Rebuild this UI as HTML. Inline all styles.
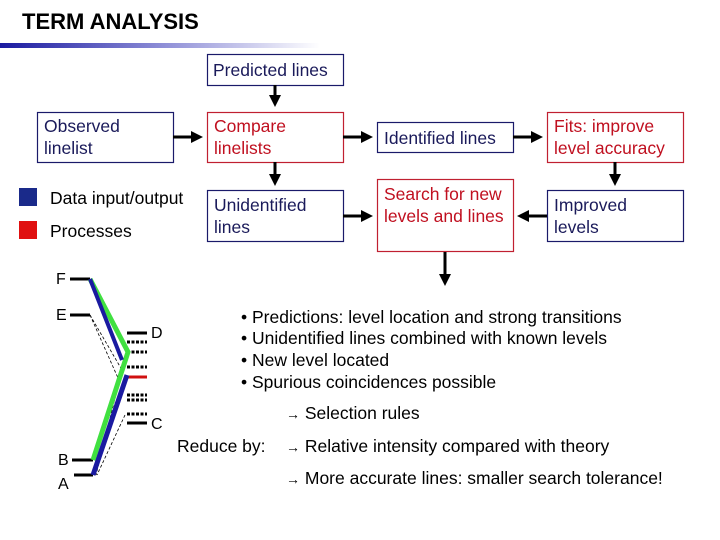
<!DOCTYPE html>
<html><head><meta charset="utf-8"><style>
html,body{margin:0;padding:0;background:#fff;}
svg{display:block;font-family:"Liberation Sans",Arial,sans-serif;}
</style></head><body>
<svg width="720" height="540" viewBox="0 0 720 540" xmlns="http://www.w3.org/2000/svg">
<defs>
<linearGradient id="g" x1="0" x2="1" y1="0" y2="0">
<stop offset="0" stop-color="#1a1aa0"/><stop offset="0.5" stop-color="#8c8cd6"/><stop offset="1" stop-color="#ffffff"/>
</linearGradient>
<marker id="ah" markerWidth="4" markerHeight="4" refX="3" refY="2" orient="auto" markerUnits="strokeWidth">
<path d="M0,0 L4,2 L0,4 z" fill="#000"/></marker>
</defs>
<text x="22" y="29" font-size="22" font-weight="bold" fill="#000">TERM ANALYSIS</text>
<rect x="0" y="43" width="320" height="5" fill="url(#g)"/>

<g stroke-width="1.2" fill="#fff">
<rect x="207.5" y="54.5" width="136" height="31" stroke="#1a1a6a"/>
<rect x="37.5" y="112.5" width="136" height="50" stroke="#1a1a6a"/>
<rect x="207.5" y="112.5" width="136" height="50" stroke="#c02030"/>
<rect x="377.5" y="122.5" width="136" height="30" stroke="#1a1a6a"/>
<rect x="547.5" y="112.5" width="136" height="50" stroke="#c02030"/>
<rect x="207.5" y="190.5" width="136" height="51" stroke="#1a1a6a"/>
<rect x="377.5" y="179.5" width="136" height="72" stroke="#c02030"/>
<rect x="547.5" y="190.5" width="136" height="51" stroke="#1a1a6a"/>
</g>
<g font-size="17.5">
<text x="213" y="76" fill="#1a1a5a">Predicted lines</text>
<text x="44" y="132" fill="#1a1a5a">Observed</text><text x="44" y="154" fill="#1a1a5a">linelist</text>
<text x="214" y="132" fill="#c01020">Compare</text><text x="214" y="154" fill="#c01020">linelists</text>
<text x="384" y="144" fill="#1a1a5a">Identified lines</text>
<text x="554" y="132" fill="#c01020">Fits: improve</text><text x="554" y="154" fill="#c01020">level accuracy</text>
<text x="214" y="211" fill="#1a1a5a">Unidentified</text><text x="214" y="233" fill="#1a1a5a">lines</text>
<text x="384" y="200" fill="#c01020">Search for new</text><text x="384" y="222" fill="#c01020">levels and lines</text>
<text x="554" y="211" fill="#1a1a5a">Improved</text><text x="554" y="233" fill="#1a1a5a">levels</text>
<text x="50" y="204" fill="#000">Data input/output</text>
<text x="50" y="237" fill="#000">Processes</text>
</g>
<rect x="19" y="188" width="18" height="18" fill="#1a2a8a"/>
<rect x="19" y="221" width="18" height="18" fill="#e01010"/>

<g stroke="#000" stroke-width="3" marker-end="url(#ah)">
<line x1="275" y1="85" x2="275" y2="104"/>
<line x1="173" y1="137" x2="200" y2="137"/>
<line x1="343" y1="137" x2="370" y2="137"/>
<line x1="513" y1="137" x2="540" y2="137"/>
<line x1="615" y1="162" x2="615" y2="183"/>
<line x1="275" y1="162" x2="275" y2="183"/>
<line x1="343" y1="216" x2="370" y2="216"/>
<line x1="547" y1="216" x2="520" y2="216"/>
<line x1="445" y1="252" x2="445" y2="283"/>
</g>

<g font-size="16" fill="#000">
<text x="56" y="284">F</text><text x="56" y="320">E</text>
<text x="151" y="338">D</text><text x="151" y="429">C</text>
<text x="58" y="465">B</text><text x="58" y="489">A</text>
</g>
<g stroke="#000" stroke-width="3">
<line x1="70" y1="279" x2="90" y2="279"/>
<line x1="70" y1="315" x2="90" y2="315"/>
<line x1="127" y1="333" x2="147" y2="333"/>
<line x1="127" y1="423" x2="147" y2="423"/>
<line x1="72" y1="460" x2="93" y2="460"/>
<line x1="74" y1="475" x2="93" y2="475"/>
</g>
<g stroke="#000" stroke-width="3" stroke-dasharray="3,1.5">
<line x1="127" y1="342" x2="147" y2="342"/>
<line x1="127" y1="352" x2="147" y2="352"/>
<line x1="127" y1="367" x2="147" y2="367"/>
<line x1="127" y1="395" x2="147" y2="395"/>
<line x1="127" y1="400" x2="147" y2="400"/>
<line x1="127" y1="414" x2="147" y2="414"/>
</g>
<line x1="127" y1="377" x2="147" y2="377" stroke="#d01010" stroke-width="3"/>
<g stroke="#000" stroke-width="0.8" stroke-dasharray="3,2" fill="none">
<polyline points="90,315 118,378 93,460"/>
<polyline points="90,315 122,370 96,475"/>
<polyline points="125,415 97,475"/>
</g>
<polyline points="90,279 128,352 93,460" stroke="#40e040" stroke-width="5" fill="none"/>
<polyline points="90,279 122,360" stroke="#1a1aa0" stroke-width="4" fill="none"/>
<polyline points="127,375 93,475" stroke="#1a1aa0" stroke-width="5" fill="none"/>

<g font-size="17.5" fill="#000">
<text x="241" y="323">• Predictions: level location and strong transitions</text>
<text x="241" y="344">• Unidentified lines combined with known levels</text>
<text x="241" y="366">• New level located</text>
<text x="241" y="388">• Spurious coincidences possible</text>
<text x="286" y="419"><tspan font-size="14">→</tspan> Selection rules</text>
<text x="177" y="452">Reduce by:</text>
<text x="286" y="452"><tspan font-size="14">→</tspan> Relative intensity compared with theory</text>
<text x="286" y="484"><tspan font-size="14">→</tspan> More accurate lines: smaller search tolerance!</text>
</g>
</svg>
</body></html>
